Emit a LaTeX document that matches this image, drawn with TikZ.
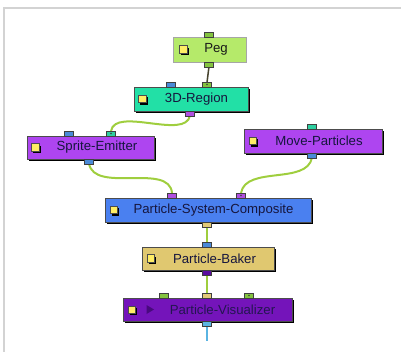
\documentclass[tikz,border=0pt]{standalone}
\usepackage{fontspec}
\setmainfont{Liberation Sans}
\usetikzlibrary{shadows}
\definecolor{pegC}{HTML}{B5EA6A}
\definecolor{regC}{HTML}{22E0A6}
\definecolor{violC}{HTML}{AE45F0}
\definecolor{blueC}{HTML}{4A80F0}
\definecolor{tanC}{HTML}{E0C870}
\definecolor{dpC}{HTML}{7414BA}
\definecolor{wireC}{HTML}{9FCE3E}
\definecolor{txtC}{HTML}{16163E}
\definecolor{pGreen}{HTML}{84C440}
\definecolor{pBlue}{HTML}{4A8AD8}
\definecolor{pTeal}{HTML}{2ED0A0}
\definecolor{pPurp}{HTML}{B050E0}
\definecolor{pTan}{HTML}{E2CA78}
\definecolor{pDark}{HTML}{5A0C9E}
\definecolor{pLight}{HTML}{5AB4E2}
\definecolor{frameC}{HTML}{D3D3D3}
\tikzset{
  box/.style={draw=black!70, line width=0.8pt, inner sep=0pt,
    drop shadow={shadow xshift=2pt, shadow yshift=-2pt, fill=black, opacity=1}},
  pegbox/.style={draw=black!35, line width=0.8pt, inner sep=0pt},
  port/.style={draw=black!75, line width=0.6pt, inner sep=0pt, minimum width=9pt, minimum height=5pt},
  dotport/.style={port, path picture={\fill[black!75] (path picture bounding box.center) circle (0.8pt);}},
  txt/.style={text=txtC, font=\fontsize{13.2}{15}\selectfont, inner sep=0pt},
  icon/.style={draw=black!70, fill=yellow!85!orange!60, line width=0.5pt, minimum size=7.5pt, inner sep=0pt,
    drop shadow={shadow xshift=1.8pt, shadow yshift=-1.8pt, fill=black, opacity=1}},
  wire/.style={draw=wireC, line width=2pt},
}
\begin{document}
\begin{tikzpicture}[x=1pt,y=-1pt]
\useasboundingbox (0,0) rectangle (401,352);
% frame
\draw[frameC, line width=2pt] (4,352) -- (4,8) -- (401,8);

% boxes
\node[pegbox, fill=pegC, minimum width=73pt, minimum height=25pt] (peg) at (209.5,49.5) {};
\node[box, fill=regC, minimum width=114pt, minimum height=24pt] (reg) at (191,99) {};
\node[box, fill=violC, minimum width=127pt, minimum height=23pt] (se) at (90.5,147.5) {};
\node[box, fill=violC, minimum width=138pt, minimum height=24pt] (mp) at (313,141) {};
\node[box, fill=blueC, minimum width=206pt, minimum height=24pt] (psc) at (208,210) {};
\node[box, fill=tanC, minimum width=132pt, minimum height=23pt] (pb) at (208,258.5) {};
\node[box, fill=dpC, minimum width=169pt, minimum height=23pt] (pv) at (207.5,309.5) {};

% icons
\node[icon] (pegI) at (183,49.5) {};
\node[icon] (regI) at (142,99) {};
\node[icon] (seI) at (35,147.5) {};
\node[icon] (mpI) at (252.5,141) {};
\node[icon] (pscI) at (113.5,210) {};
\node[icon] (pbI) at (150.5,258.5) {};
\node[icon] (pvI) at (131.5,309.5) {};
\fill[pDark!80!black] (146.5,305) -- (154,309.5) -- (146.5,314) -- cycle;

% texts
\node[txt, text=black!90] (pegT) at (216,49.5) {Peg};
\node[txt] (regT) at (196.5,99) {3D-Region};
\node[txt] (seT) at (97,147.5) {Sprite-Emitter};
\node[txt] (mpT) at (319,141) {Move-Particles};
\node[txt] (pscT) at (213.5,210) {Particle-System-Composite};
\node[txt] (pbT) at (214.5,258.5) {Particle-Baker};
\node[txt, text=txtC!85!dpC] (pvT) at (222.5,309.5) {Particle-Visualizer};

% connectors
\draw[black!65!olive, line width=1.5pt] (209,66.5) -- (207,82.5);
\draw[wire] (190,115.5) to[out=-100, in=80, looseness=0.8] (111,131);
\draw[wire] (89,163.5) to[out=-80, in=95, looseness=0.9] (172,193);
\draw[wire] (312,157.5) to[out=-100, in=80, looseness=0.9] (241,193);
\draw[wire] (207,226.5) -- (207,242);
\draw[wire] (207,274.5) -- (207,293);
\coordinate (pvEnd) at (207,341);
\draw[pLight, line width=2pt] (207,325.5) -- (pvEnd);

% ports
\node[port, fill=pGreen] (pegIn) at (209,34.5) {};
\node[port, fill=pGreen] (pegOut) at (209,64.5) {};
\node[port, fill=pBlue] (regInA) at (171,84.5) {};
\node[dotport, fill=pGreen] (regInB) at (207,84.5) {};
\node[port, fill=pPurp] (regOut) at (190,113.5) {};
\node[port, fill=pBlue] (seInA) at (69,133.5) {};
\node[dotport, fill=pTeal] (seInB) at (111,133.5) {};
\node[port, fill=pBlue] (seOut) at (89,161.5) {};
\node[port, fill=pTeal] (mpIn) at (312,126.5) {};
\node[port, fill=pBlue] (mpOut) at (312,155.5) {};
\node[port, fill=pPurp] (pscInA) at (172,195.5) {};
\node[dotport, fill=pPurp] (pscInB) at (241,195.5) {};
\node[port, fill=pTan] (pscOut) at (207,224.5) {};
\node[port, fill=pBlue] (pbIn) at (207,244.5) {};
\node[port, fill=pDark] (pbOut) at (207,272.5) {};
\node[port, fill=pGreen] (pvInA) at (164,295.5) {};
\node[port, fill=pTan] (pvInB) at (207,295.5) {};
\node[dotport, fill=pGreen] (pvInC) at (249,295.5) {};
\node[port, fill=pLight] (pvOut) at (207,323.5) {};
\end{tikzpicture}
\end{document}
